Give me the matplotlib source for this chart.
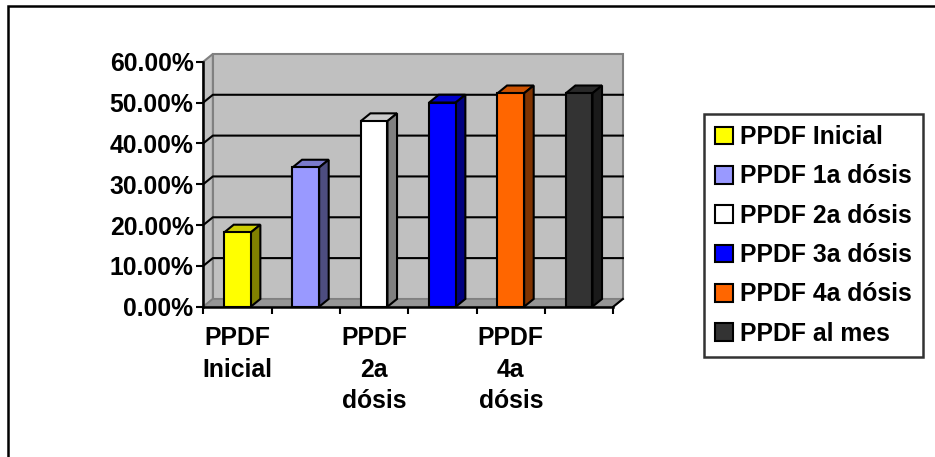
import numpy as np
import matplotlib
matplotlib.use("Agg")
import matplotlib.pyplot as plt
from matplotlib.patches import Polygon, Rectangle, Patch
from matplotlib.ticker import FuncFormatter

plt.rcParams['font.family'] = ['Liberation Sans', 'DejaVu Sans']
plt.rcParams['font.weight'] = 'bold'

series = ['PPDF Inicial', 'PPDF 1a dósis', 'PPDF 2a dósis',
          'PPDF 3a dósis', 'PPDF 4a dósis', 'PPDF al mes']
values = [18.18, 34.09, 45.45, 50.00, 52.27, 52.27]
tick_labels = ['PPDF\nInicial', '', 'PPDF\n2a\ndósis', '', 'PPDF\n4a\ndósis', '']
front = ['#FFFF00', '#9999FF', '#FFFFFF', '#0000FF', '#FF6600', '#333333']
top = ['#CCCC00', '#7A7ACC', '#CCCCCC', '#0000CC', '#CC5200', '#292929']
side = ['#808000', '#4D4D80', '#808080', '#000080', '#803300', '#1A1A1A']

W, H = 935, 457
fig = plt.figure(figsize=(W / 100, H / 100), dpi=100)
ax = fig.add_axes([203.3 / W, 150.3 / H, 410 / W, 245 / H])
ax.set_xlim(-0.5, 5.5)
ax.set_ylim(0, 60)

dx, dy = 0.14, 1.9   # depth of the 3D box, in data units
bw = 0.39
fs = 17.8

# walls and floor
ax.add_patch(Rectangle((-0.5 + dx, dy), 6, 60, facecolor='#C0C0C0',
                       edgecolor='#808080', lw=1.5, zorder=0.5, clip_on=False))
ax.add_patch(Polygon([(-0.5, 0), (-0.5 + dx, dy), (-0.5 + dx, 60 + dy), (-0.5, 60)],
                     facecolor='#C0C0C0', edgecolor='#808080', lw=1.5,
                     zorder=0.6, clip_on=False))
ax.add_patch(Polygon([(-0.5, 0), (5.5, 0), (5.5 + dx, dy), (-0.5 + dx, dy)],
                     facecolor='#969696', edgecolor='#808080', lw=1.2,
                     zorder=0.7, clip_on=False))
ax.plot([5.5, 5.5 + dx], [0, dy], color='black', lw=1.5, zorder=4, clip_on=False)

# gridlines on back and side walls
for g in range(10, 60, 10):
    ax.plot([-0.5, -0.5 + dx, 5.5 + dx], [g, g + dy, g + dy],
            color='black', lw=1.5, zorder=1, clip_on=False)

# bars
x = np.arange(len(values))
ax.bar(x, values, width=bw, color=front, edgecolor='black', lw=1.5, zorder=3)
for i, v in enumerate(values):
    l, r = i - bw / 2, i + bw / 2
    ax.add_patch(Polygon([(l, v), (r, v), (r + dx, v + dy), (l + dx, v + dy)],
                         facecolor=top[i], edgecolor='black', lw=1.5,
                         zorder=2.5, clip_on=False))
    ax.add_patch(Polygon([(r, 0), (r + dx, dy), (r + dx, v + dy), (r, v)],
                         facecolor=side[i], edgecolor='black', lw=1.5,
                         zorder=2.5, clip_on=False))

for s in ['top', 'right']:
    ax.spines[s].set_visible(False)
for s in ['left', 'bottom']:
    ax.spines[s].set_linewidth(1.8)
    ax.spines[s].set_zorder(5)
ax.patch.set_visible(False)

ax.set_yticks(range(0, 61, 10))
ax.yaxis.set_major_formatter(FuncFormatter(lambda v, p: f'{v:.2f}%'))
ax.tick_params(axis='y', length=5, width=1.5, pad=2, labelsize=fs)
ax.set_xticks(x)
ax.set_xticklabels(tick_labels, fontsize=fs, linespacing=1.4)
ax.set_xticks(np.arange(-0.5, 6, 1), minor=True)
ax.tick_params(axis='x', which='major', length=0, pad=14)
ax.tick_params(axis='x', which='minor', length=5, width=1.5)

handles = [Patch(facecolor=c, edgecolor='black', lw=1.5) for c in front]
leg = fig.legend(handles, series, loc='upper left',
                 bbox_to_anchor=(704 / W, 1 - 114 / H), bbox_transform=fig.transFigure,
                 fontsize=fs, frameon=True, fancybox=False, borderaxespad=0,
                 handlelength=0.72, handleheight=0.72, handletextpad=0.28,
                 labelspacing=0.62, borderpad=0.45)
leg.get_frame().set_edgecolor('black')
leg.get_frame().set_linewidth(1.8)

# outer chart border
fig.patches.append(Rectangle((8 / W, -0.1), 1.2, 1.1 - 6 / H,
                             transform=fig.transFigure, fill=False,
                             edgecolor='black', lw=1.8))

fig.savefig('out.png', dpi=100)
